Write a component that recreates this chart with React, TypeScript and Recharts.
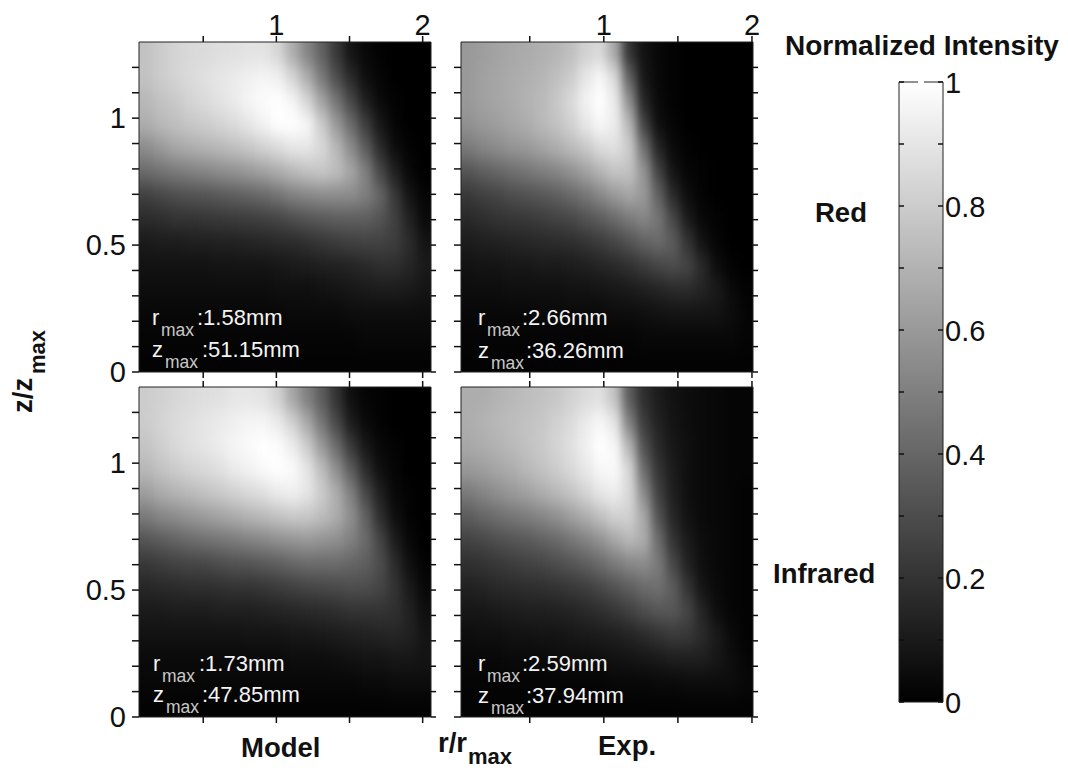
import { ScatterChart, Scatter, XAxis, YAxis, ComposedChart, Bar, Line, ReferenceLine } from "recharts";

// grid of the intensity maps (r/rmax columns, z/zmax rows)
const modelRadii = [0.11, 0.21, 0.31, 0.41, 0.51, 0.61, 0.71, 0.81, 0.91, 1.01, 1.11, 1.21, 1.31, 1.41, 1.51, 1.61, 1.71, 1.81, 1.91, 2.01];
const expRadii = [0.085, 0.184, 0.283, 0.381, 0.48, 0.579, 0.677, 0.776, 0.875, 0.974, 1.072, 1.171, 1.27, 1.369, 1.467, 1.566, 1.665, 1.763, 1.862, 1.961];
const heights = [1.254, 1.161, 1.068, 0.975, 0.882, 0.789, 0.696, 0.604, 0.511, 0.418, 0.325, 0.232, 0.139, 0.046];

const modelRed = [
  [76, 80, 83, 85, 86, 87, 88, 89, 89, 84, 68, 52, 38, 22, 8, 3, 1, 0, 0, 0],
  [76, 80, 83, 86, 88, 90, 92, 94, 96, 94, 84, 68, 48, 30, 16, 6, 2, 0, 0, 0],
  [72, 76, 79, 83, 86, 89, 92, 96, 99, 100, 96, 84, 64, 46, 28, 12, 4, 1, 0, 0],
  [68, 72, 75, 78, 80, 83, 86, 90, 95, 100, 100, 97, 80, 60, 42, 24, 9, 2, 0, 0],
  [55, 60, 65, 68, 70, 72, 75, 78, 82, 86, 90, 90, 85, 72, 55, 36, 17, 5, 1, 0],
  [42, 45, 48, 50, 52, 55, 57, 60, 63, 68, 72, 76, 78, 75, 65, 50, 28, 12, 3, 0],
  [25, 28, 30, 32, 33, 35, 37, 39, 41, 45, 50, 53, 55, 55, 55, 50, 40, 22, 8, 2],
  [17, 18, 20, 20, 21, 22, 23, 24, 25, 27, 30, 33, 35, 37, 37, 37, 33, 25, 13, 4],
  [10, 11, 11, 12, 12, 13, 13, 14, 15, 16, 17, 19, 21, 23, 25, 26, 26, 24, 17, 8],
  [7, 7, 7, 7, 7, 8, 8, 8, 8, 9, 10, 11, 12, 13, 14, 16, 18, 18, 15, 10],
  [5, 5, 5, 5, 5, 5, 5, 5, 5, 6, 6, 6, 7, 8, 9, 10, 11, 11, 10, 8],
  [3, 3, 3, 3, 3, 3, 3, 3, 3, 3, 4, 4, 4, 4, 5, 5, 5, 5, 5, 5],
  [2, 2, 2, 2, 2, 2, 2, 2, 2, 2, 2, 2, 2, 2, 2, 3, 3, 3, 3, 3],
  [1, 1, 1, 1, 1, 1, 1, 1, 1, 1, 1, 1, 1, 1, 1, 1, 1, 1, 1, 1],
];

const expRed = [
  [60, 62, 64, 66, 67, 69, 71, 75, 82, 85, 66, 20, 7, 3, 1, 0, 0, 0, 0, 0],
  [60, 63, 65, 67, 69, 71, 75, 80, 90, 97, 86, 38, 9, 3, 1, 0, 0, 0, 0, 0],
  [60, 63, 65, 67, 70, 73, 78, 85, 95, 100, 92, 56, 14, 4, 1, 0, 0, 0, 0, 0],
  [57, 60, 62, 65, 68, 72, 76, 82, 90, 97, 93, 72, 26, 6, 2, 0, 0, 0, 0, 0],
  [48, 52, 55, 58, 60, 64, 68, 73, 78, 86, 88, 80, 44, 14, 4, 1, 0, 0, 0, 0],
  [33, 37, 40, 43, 46, 49, 52, 57, 63, 70, 77, 76, 58, 26, 8, 2, 1, 0, 0, 0],
  [22, 25, 27, 30, 32, 34, 37, 41, 46, 53, 60, 65, 60, 38, 16, 5, 1, 0, 0, 0],
  [16, 18, 20, 21, 22, 24, 26, 28, 32, 36, 42, 48, 53, 46, 28, 10, 3, 1, 0, 0],
  [11, 12, 13, 14, 15, 16, 17, 18, 20, 23, 27, 32, 38, 42, 36, 20, 7, 2, 0, 0],
  [7, 8, 8, 9, 9, 10, 10, 11, 12, 14, 16, 19, 23, 27, 30, 27, 16, 5, 1, 0],
  [5, 5, 5, 6, 6, 6, 6, 7, 7, 8, 9, 10, 12, 14, 16, 17, 14, 10, 4, 1],
  [3, 3, 3, 3, 3, 4, 4, 4, 4, 4, 5, 5, 6, 7, 8, 8, 8, 8, 5, 2],
  [2, 2, 2, 2, 2, 2, 2, 2, 2, 2, 2, 2, 3, 3, 3, 3, 3, 3, 3, 2],
  [1, 1, 1, 1, 1, 1, 1, 1, 1, 1, 1, 1, 1, 1, 1, 1, 1, 1, 1, 1],
];

const modelInfrared = [
  [80, 82, 84, 86, 87, 88, 90, 90, 89, 82, 65, 50, 36, 20, 6, 2, 1, 0, 0, 0],
  [80, 83, 86, 88, 90, 92, 94, 96, 96, 92, 82, 66, 46, 28, 11, 4, 1, 0, 0, 0],
  [77, 81, 85, 88, 90, 93, 96, 98, 100, 99, 93, 80, 60, 42, 22, 9, 3, 1, 0, 0],
  [72, 76, 80, 83, 85, 88, 92, 95, 98, 100, 98, 90, 74, 56, 36, 17, 6, 2, 0, 0],
  [62, 67, 70, 73, 76, 79, 82, 85, 88, 92, 94, 90, 80, 68, 50, 28, 12, 3, 1, 0],
  [48, 52, 55, 58, 61, 64, 67, 70, 73, 76, 79, 78, 74, 68, 56, 38, 18, 6, 1, 0],
  [33, 36, 39, 42, 44, 46, 48, 51, 53, 56, 58, 60, 58, 56, 50, 42, 27, 11, 3, 0],
  [22, 24, 26, 27, 28, 30, 32, 33, 35, 37, 40, 42, 42, 42, 40, 37, 30, 17, 6, 1],
  [15, 16, 17, 18, 18, 19, 20, 20, 21, 23, 25, 27, 28, 29, 30, 30, 27, 20, 10, 3],
  [10, 10, 11, 11, 11, 12, 12, 12, 13, 14, 15, 16, 17, 18, 20, 20, 20, 19, 13, 6],
  [7, 7, 7, 7, 7, 7, 7, 8, 8, 8, 9, 9, 10, 11, 12, 13, 14, 15, 13, 8],
  [4, 4, 4, 4, 4, 4, 4, 4, 4, 4, 5, 5, 5, 6, 7, 8, 8, 9, 9, 8],
  [3, 3, 3, 3, 3, 3, 3, 3, 3, 3, 3, 3, 3, 3, 3, 4, 4, 5, 5, 5],
  [1, 1, 1, 1, 1, 1, 1, 1, 1, 1, 1, 1, 1, 1, 1, 1, 1, 1, 1, 1],
];

const expInfrared = [
  [68, 68, 70, 72, 74, 76, 78, 82, 86, 88, 76, 36, 18, 11, 7, 5, 4, 3, 2, 2],
  [68, 70, 72, 74, 76, 78, 82, 86, 92, 97, 90, 50, 23, 13, 8, 5, 4, 3, 2, 2],
  [66, 68, 70, 73, 76, 79, 83, 88, 94, 100, 97, 70, 31, 16, 9, 6, 4, 3, 2, 2],
  [60, 62, 65, 68, 72, 76, 80, 85, 91, 97, 98, 84, 42, 20, 11, 6, 4, 3, 2, 2],
  [48, 52, 56, 60, 63, 68, 72, 77, 83, 90, 93, 85, 54, 25, 12, 6, 4, 3, 2, 1],
  [36, 40, 43, 46, 49, 52, 56, 62, 68, 75, 82, 82, 66, 32, 15, 7, 4, 3, 2, 1],
  [26, 28, 31, 33, 35, 38, 41, 46, 51, 57, 65, 72, 68, 42, 20, 10, 5, 3, 2, 1],
  [19, 20, 22, 24, 26, 27, 30, 33, 37, 42, 48, 53, 55, 48, 28, 13, 6, 3, 2, 1],
  [13, 14, 16, 17, 18, 19, 20, 22, 24, 28, 32, 37, 42, 44, 36, 20, 8, 4, 2, 1],
  [9, 9, 10, 11, 12, 12, 13, 14, 16, 18, 21, 25, 30, 34, 34, 27, 14, 5, 2, 1],
  [5, 6, 6, 7, 7, 8, 8, 9, 10, 11, 12, 14, 17, 20, 23, 22, 17, 10, 4, 1],
  [3, 3, 3, 4, 4, 4, 5, 5, 5, 6, 7, 8, 9, 10, 12, 12, 12, 9, 5, 2],
  [2, 2, 2, 2, 2, 2, 2, 2, 2, 2, 3, 3, 3, 4, 4, 5, 5, 5, 5, 3],
  [1, 1, 1, 1, 1, 1, 1, 1, 1, 1, 1, 1, 1, 1, 1, 1, 1, 1, 1, 1],
];

const radiusTicks = [0.5, 1, 1.5, 2];
const heightTicks = [0, 0.1, 0.2, 0.3, 0.4, 0.5, 0.6, 0.7, 0.8, 0.9, 1, 1.1, 1.2];
const scaleTicks = [0, 0.1, 0.2, 0.3, 0.4, 0.5, 0.6, 0.7, 0.8, 0.9, 1];
const scaleLabels = [0, 0.2, 0.4, 0.6, 0.8, 1];
const heightLabels = [0, 0.5, 1];
const topLabels = [1, 2];

const FONT = "'Liberation Sans', Arial, sans-serif";
const INK = "#222";
const TICK_LINE = { stroke: "#111", strokeWidth: 1.5 };
const W = 292;
const H = 330;
const PAD = 30;
const AXIS_L = 60;
const AXIS_T = 42;
const AXIS_R = 10;
const AXIS_B = 24;
const Z_DOMAIN: [number, number] = [0, 1.3];
const MODEL_DOMAIN: [number, number] = [0.061, 2.057];
const EXP_DOMAIN: [number, number] = [0.036, 2.007];

function toCells(values: number[][], radii: number[]) {
  return heights.flatMap((z, row) =>
    radii.map((r, col) => ({ r, z, v: values[row][col], row, col }))
  );
}

// one grey rectangle, edge cells run past the plot so the blur has no pale rim
const Cell = (props: any) => {
  const { cx, cy, payload } = props;
  const cw = W / 20;
  const ch = H / 14;
  const x0 = payload.col === 0 ? cx - cw / 2 - PAD : cx - cw / 2;
  const x1 = payload.col === 19 ? cx + cw / 2 + PAD : cx + cw / 2 + 1;
  const y0 = payload.row === 0 ? cy - ch / 2 - PAD : cy - ch / 2;
  const y1 = payload.row === 13 ? cy + ch / 2 + PAD : cy + ch / 2 + 1;
  const g = Math.round((payload.v / 100) * 255);
  return <rect x={x0} y={y0} width={x1 - x0} height={y1 - y0} fill={`rgb(${g},${g},${g})`} />;
};

const NoMark = () => <g />;

interface PanelProps {
  left: number;
  top: number;
  values: number[][];
  radii: number[];
  domain: [number, number];
  showTop: boolean;
  showLeft: boolean;
}

function Panel({ left, top, values, radii, domain, showTop, showLeft }: PanelProps) {
  const cells = toCells(values, radii);
  const tickStyle = { fill: "#111", fontSize: 29, fontFamily: FONT };
  return (
    <>
      <div style={{ position: "absolute", left, top, width: W, height: H, overflow: "hidden" }}>
        <div style={{ position: "absolute", left: -PAD, top: -PAD, filter: "url(#soften)" }}>
          <ScatterChart width={W + PAD * 2} height={H + PAD * 2} margin={{ top: PAD, right: PAD, bottom: PAD, left: PAD }}>
            <XAxis type="number" dataKey="r" domain={domain} hide />
            <YAxis type="number" dataKey="z" domain={Z_DOMAIN} hide />
            <Scatter data={cells} shape={Cell} isAnimationActive={false} />
          </ScatterChart>
        </div>
      </div>
      <div style={{ position: "absolute", left: left - AXIS_L, top: top - AXIS_T }}>
        <ScatterChart width={W + AXIS_L + AXIS_R} height={H + AXIS_T + AXIS_B} margin={{ top: 0, right: 0, bottom: 0, left: 0 }}>
          <XAxis
            xAxisId="top"
            orientation="top"
            type="number"
            dataKey="r"
            height={AXIS_T}
            domain={domain}
            ticks={radiusTicks}
            interval={0}
            tickSize={6}
            tickMargin={1}
            stroke={INK}
            tickLine={TICK_LINE}
            tick={tickStyle}
            tickFormatter={(v: number) => (showTop && topLabels.includes(v) ? String(v) : "")}
          />
          <XAxis
            xAxisId="bottom"
            orientation="bottom"
            type="number"
            dataKey="r"
            height={AXIS_B}
            domain={domain}
            ticks={radiusTicks}
            interval={0}
            tickSize={6}
            stroke={INK}
            tickLine={TICK_LINE}
            tickFormatter={() => ""}
          />
          <YAxis
            yAxisId="left"
            orientation="left"
            type="number"
            dataKey="z"
            width={AXIS_L}
            domain={Z_DOMAIN}
            ticks={heightTicks}
            interval={0}
            tickSize={7}
            tickMargin={6}
            stroke={INK}
            tickLine={TICK_LINE}
            tick={tickStyle}
            tickFormatter={(v: number) => (showLeft && heightLabels.includes(v) ? String(v) : "")}
          />
          <YAxis
            yAxisId="right"
            orientation="right"
            type="number"
            dataKey="z"
            width={AXIS_R}
            domain={Z_DOMAIN}
            ticks={heightTicks}
            interval={0}
            tickSize={5}
            stroke={INK}
            tickLine={TICK_LINE}
            tickFormatter={() => ""}
          />
          <Scatter xAxisId="top" yAxisId="left" data={cells} shape={NoMark} isAnimationActive={false} />
          <Scatter xAxisId="bottom" yAxisId="right" data={cells} shape={NoMark} isAnimationActive={false} />
        </ScatterChart>
      </div>
    </>
  );
}

function Note({ x, y, sym, subX, value, valueX }: { x: number; y: number; sym: string; subX: number; value: string; valueX: number }) {
  return (
    <g fill="#f4f4f4" fontFamily={FONT}>
      <text x={x} y={y} fontSize={22}>{sym}</text>
      <text x={x + subX} y={y + 11} fontSize={17.5} fill="#c8c8c8">max</text>
      <text x={valueX} y={y} fontSize={22}>{value}</text>
    </g>
  );
}

const titleStyle = { fontFamily: FONT, fontWeight: 700, fontSize: 27.5, fill: "#111" };

function ColorScale() {
  return (
    <div style={{ position: "absolute", left: 899 - 10, top: 82 - 24 }}>
      <svg width={0} height={0} style={{ position: "absolute" }}>
        <defs>
          <linearGradient id="greys" x1="0" y1="0" x2="0" y2="1">
            <stop offset="0%" stopColor="#fff" />
            <stop offset="100%" stopColor="#000" />
          </linearGradient>
        </defs>
      </svg>
      <ComposedChart
        width={44 + 10 + 60}
        height={620 + 48}
        data={[{ name: "scale", level: 1 }]}
        margin={{ top: 24, right: 0, bottom: 24, left: 0 }}
        barCategoryGap={0}
      >
        <XAxis dataKey="name" hide />
        <Bar yAxisId="left" dataKey="level" fill="url(#greys)" isAnimationActive={false} />
        <Line yAxisId="right" dataKey="level" stroke="none" dot={false} isAnimationActive={false} />
        <ReferenceLine yAxisId="left" y={1} stroke={INK} />
        <ReferenceLine yAxisId="left" y={0} stroke={INK} />
        <YAxis
          yAxisId="left"
          orientation="left"
          width={10}
          type="number"
          domain={[0, 1]}
          ticks={scaleTicks}
          interval={0}
          tickSize={-5}
          stroke={INK}
          tickLine={TICK_LINE}
          tickFormatter={() => ""}
        />
        <YAxis
          yAxisId="right"
          orientation="right"
          width={60}
          type="number"
          domain={[0, 1]}
          ticks={scaleTicks}
          interval={0}
          tickSize={-5}
          tickMargin={7}
          stroke={INK}
          tickLine={TICK_LINE}
          tick={{ fill: "#111", fontSize: 29, fontFamily: FONT, dy: 1 }}
          tickFormatter={(v: number) => (scaleLabels.includes(v) ? String(v) : "")}
        />
      </ComposedChart>
    </div>
  );
}

export default function App() {
  return (
    <div style={{ position: "absolute", left: 0, top: 0, width: 1068, height: 771, background: "#fff", overflow: "hidden" }}>
      <svg width={0} height={0} style={{ position: "absolute" }}>
        <filter id="soften" colorInterpolationFilters="sRGB" x="-10%" y="-10%" width="120%" height="120%">
          <feGaussianBlur stdDeviation="5 9" />
        </filter>
      </svg>

      <Panel left={139} top={42} values={modelRed} radii={modelRadii} domain={MODEL_DOMAIN} showTop showLeft />
      <Panel left={461} top={42} values={expRed} radii={expRadii} domain={EXP_DOMAIN} showTop showLeft={false} />
      <Panel left={139} top={387} values={modelInfrared} radii={modelRadii} domain={MODEL_DOMAIN} showTop={false} showLeft />
      <Panel left={461} top={387} values={expInfrared} radii={expRadii} domain={EXP_DOMAIN} showTop={false} showLeft={false} />
      <ColorScale />

      <svg width={1068} height={771} style={{ position: "absolute", left: 0, top: 0, pointerEvents: "none" }}>
        <Note x={152} y={325} sym="r" subX={9} value=":1.58mm" valueX={197} />
        <Note x={152} y={357} sym="z" subX={13} value=":51.15mm" valueX={202} />
        <Note x={478} y={325} sym="r" subX={9} value=":2.66mm" valueX={522} />
        <Note x={478} y={358} sym="z" subX={13} value=":36.26mm" valueX={526} />
        <Note x={153} y={671} sym="r" subX={9} value=":1.73mm" valueX={199} />
        <Note x={153} y={702} sym="z" subX={13} value=":47.85mm" valueX={202} />
        <Note x={478} y={671} sym="r" subX={9} value=":2.59mm" valueX={522} />
        <Note x={478} y={703} sym="z" subX={13} value=":37.94mm" valueX={526} />

        <text x={785} y={55} style={{ ...titleStyle, fontSize: 28 }}>Normalized Intensity</text>
        <text x={815} y={222} style={titleStyle}>Red</text>
        <text x={773} y={583} style={titleStyle}>Infrared</text>
        <text x={241} y={757} style={titleStyle}>Model</text>
        <text x={598} y={755} style={titleStyle}>Exp.</text>
        <text x={438} y={752} style={titleStyle}>r/r</text>
        <text x={468} y={764} style={{ ...titleStyle, fontSize: 22 }}>max</text>
        <text transform="translate(32 413) rotate(-90)" style={titleStyle}>z/z</text>
        <text transform="translate(45 374) rotate(-90)" style={{ ...titleStyle, fontSize: 22 }}>max</text>
      </svg>
    </div>
  );
}
